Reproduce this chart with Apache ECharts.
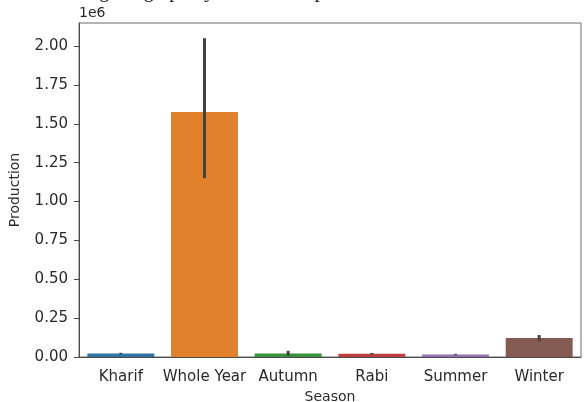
<!DOCTYPE html>
<html>
<head>
<meta charset="utf-8">
<script src="https://cdn.jsdelivr.net/npm/echarts@6/dist/echarts.min.js"></script>
<style>
  html, body { margin: 0; padding: 0; background: #fff; }
  #chart { width: 584px; height: 402px; }
</style>
</head>
<body>
<div id="chart"></div>
<script>
// Seasons on the x axis
const seasons = ['Kharif', 'Whole Year', 'Autumn', 'Rabi', 'Summer', 'Winter'];
// Mean production per season
const production = [22000, 1575000, 23000, 21000, 16000, 122000];
// Confidence interval bounds drawn as error bars
const ciLow = [17000, 1150000, 8000, 16000, 12000, 102000];
const ciHigh = [27000, 2050000, 40000, 26000, 20000, 141000];
// Y tick values (shown in units of 1e6)
const yTicks = [0, 250000, 500000, 750000, 1000000, 1250000, 1500000, 1750000, 2000000];
// Bar colours per season
const barColors = ['#3274a1', '#e1812c', '#3a923a', '#c03d3e', '#9372b2', '#845b53'];

const FONT = 'DejaVu Sans';
const FS = 15;
const TEXT = '#2a2a2a';
const SPINE = '#4a4a4a';

const chart = echarts.init(document.getElementById('chart'), null, { renderer: 'canvas' });

chart.setOption({
  animation: false,
  backgroundColor: '#ffffff',
  grid: {
    left: 79, right: 3, top: 23, bottom: 45,
    outerBoundsMode: 'none',
    containLabel: false,
    show: true, borderColor: '#6a6a6a', borderWidth: 1, backgroundColor: 'transparent'
  },
  graphic: [
    {
      type: 'text', left: 79, top: 6,
      style: { text: '1e6', font: '14px "DejaVu Sans"', fill: TEXT }
    },
    {
      type: 'text', left: 46, top: -18,
      style: { text: 'Plotting the graph by Season and production', font: '20px "Liberation Serif"', fill: '#111' }
    }
  ],
  xAxis: {
    type: 'category',
    data: seasons,
    name: 'Season',
    nameLocation: 'middle',
    nameGap: 33,
    nameTextStyle: { fontFamily: FONT, fontSize: 14, color: TEXT },
    axisLine: { lineStyle: { color: SPINE, width: 1 } },
    axisTick: { alignWithLabel: true, length: 5, lineStyle: { color: SPINE } },
    axisLabel: { fontFamily: FONT, fontSize: FS, color: TEXT, margin: 13, interval: 0 }
  },
  yAxis: {
    type: 'value',
    min: 0,
    max: 2148000,
    name: 'Production',
    nameLocation: 'middle',
    nameGap: 57,
    nameRotate: 90,
    nameTextStyle: { fontFamily: FONT, fontSize: 14, color: TEXT },
    splitLine: { show: false },
    axisLine: { show: true, lineStyle: { color: SPINE, width: 1 } },
    axisTick: { show: true, length: 5, lineStyle: { color: SPINE }, customValues: yTicks },
    axisLabel: {
      fontFamily: FONT, fontSize: FS, color: TEXT, margin: 11,
      customValues: yTicks,
      formatter: v => (v / 1e6).toFixed(2)
    }
  },
  series: [
    {
      type: 'bar',
      data: production.map((v, i) => ({ value: v, itemStyle: { color: barColors[i] } })),
      barWidth: '80%',
      barGap: '-100%'
    },
    {
      type: 'custom',
      data: seasons.map((s, i) => [i, ciLow[i], ciHigh[i]]),
      z: 10,
      renderItem: (params, api) => {
        const lo = api.coord([api.value(0), api.value(1)]);
        const hi = api.coord([api.value(0), api.value(2)]);
        return {
          type: 'line',
          shape: { x1: lo[0], y1: lo[1], x2: hi[0], y2: hi[1] },
          style: { stroke: '#424242', lineWidth: 3 }
        };
      }
    }
  ]
});
</script>
</body>
</html>
